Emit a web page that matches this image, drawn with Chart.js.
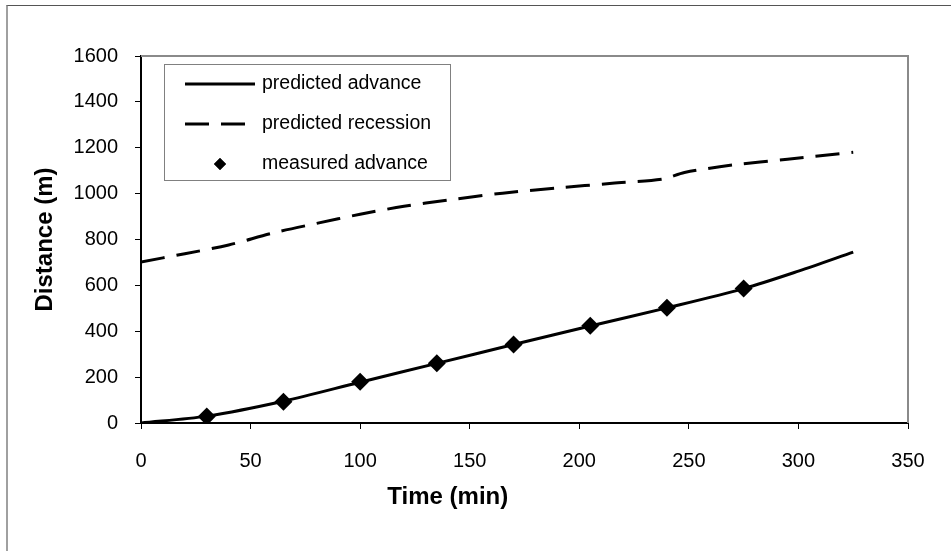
<!DOCTYPE html>
<html>
<head>
<meta charset="utf-8">
<script src="https://cdn.jsdelivr.net/npm/chart.js@4.4.1/dist/chart.umd.min.js"></script>
<style>
  body { margin: 0; background: #fff; }
  #wrap { position: relative; width: 951px; height: 551px; }
  #frame { position: absolute; left: 6px; top: 5px; width: 960px; height: 560px;
           border-top: 1px solid #555; border-left: 2px solid #a0a0a0; pointer-events: none; }
  canvas { position: absolute; left: 0; top: 0; }
</style>
</head>
<body>
<div id="wrap">
  <canvas id="c" width="951" height="551"></canvas>
  <div id="frame"></div>
</div>
<script>
// predicted advance (solid)
const advTime = [0, 30, 65, 100, 135, 170, 205, 240, 275, 300, 325];
const advDist = [0, 30, 95, 178, 260, 342, 423, 502, 586, 662, 745];

// predicted recession (dashed)
const recTime = [0, 20, 40, 60, 80, 100, 120, 140, 165, 190, 215, 238, 248, 270, 295, 325];
const recDist = [702, 738, 776, 828, 870, 910, 945, 972, 1002, 1025, 1045, 1063, 1092, 1125, 1150, 1180];

// measured advance (diamonds)
const measTime = [30, 65, 100, 135, 170, 205, 240, 275];
const measDist = [28, 93, 180, 260, 342, 424, 502, 586];

const seriesNames = ['predicted advance', 'predicted recession', 'measured advance'];
const xTitle = 'Time (min)';
const yTitle = 'Distance (m)';

const xTicks = { min: 0, max: 350, step: 50 };
const yTicks = { min: 0, max: 1600, step: 200 };

const toPts = (xs, ys) => xs.map((x, i) => ({ x: x, y: ys[i] }));

const FONT = "'Liberation Sans', Arial, sans-serif";

// legend box drawn inside the plot, top-left
const boxLegend = {
    id: 'boxLegend',
    afterDraw(chart) {
        const ctx = chart.ctx;
        ctx.save();
        ctx.strokeStyle = '#808080';
        ctx.lineWidth = 1;
        ctx.strokeRect(164.5, 64.5, 286, 116);
        chart.data.datasets.forEach((ds, i) => {
            const y = 84 + i * 40;
            if (ds.showLine !== false) {
                ctx.beginPath();
                ctx.setLineDash(ds.borderDash || []);
                ctx.lineWidth = ds.borderWidth;
                ctx.strokeStyle = ds.borderColor;
                ctx.moveTo(185, y);
                ctx.lineTo(255, y);
                ctx.stroke();
                ctx.setLineDash([]);
            } else {
                ctx.fillStyle = ds.pointBackgroundColor;
                Chart.helpers.drawPoint(ctx, { pointStyle: 'rectRot', radius: 6, borderWidth: 0 }, 220, y);
                ctx.fill();
            }
            ctx.fillStyle = '#000';
            ctx.font = '19.5px ' + FONT;
            ctx.textBaseline = 'middle';
            ctx.fillText(ds.label, 262, y);
        });
        // x axis title sits left of centre in the original
        ctx.font = 'bold 24px ' + FONT;
        ctx.textAlign = 'center';
        ctx.fillText(xTitle, chart.scales.x.getPixelForValue(140), 497);
        ctx.restore();
    }
};

// gray top + right edges of the plot area
const plotFrame = {
    id: 'plotFrame',
    beforeDatasetsDraw(chart) {
        const { ctx, chartArea: a } = chart;
        ctx.save();
        ctx.strokeStyle = '#8a8a8a';
        ctx.lineWidth = 2;
        ctx.beginPath();
        ctx.moveTo(a.left, a.top);
        ctx.lineTo(a.right, a.top);
        ctx.lineTo(a.right, a.bottom);
        ctx.stroke();
        ctx.restore();
    }
};

new Chart(document.getElementById('c').getContext('2d'), {
    type: 'scatter',
    data: {
        datasets: [{
            label: seriesNames[0],
            data: toPts(advTime, advDist),
            showLine: true,
            borderColor: '#000',
            borderWidth: 3,
            pointRadius: 0,
            tension: 0.3,
            order: 1
        }, {
            label: seriesNames[1],
            data: toPts(recTime, recDist),
            showLine: true,
            borderColor: '#000',
            borderWidth: 3,
            borderDash: [24, 12],
            pointRadius: 0,
            tension: 0.3,
            order: 1
        }, {
            label: seriesNames[2],
            data: toPts(measTime, measDist),
            showLine: false,
            pointStyle: 'rectRot',
            pointRadius: 9,
            pointBackgroundColor: '#000',
            pointBorderColor: '#000',
            pointBorderWidth: 0,
            order: 0
        }]
    },
    options: {
        responsive: false,
        animation: false,
        layout: { padding: { left: 0, top: 56, right: 43, bottom: 0 } },
        plugins: { legend: { display: false }, tooltip: { enabled: false } },
        scales: {
            x: {
                type: 'linear',
                min: xTicks.min, max: xTicks.max,
                afterFit: s => { s.height = 128; },
                ticks: { stepSize: xTicks.step, color: '#000', font: { size: 20, family: FONT }, padding: 20, maxRotation: 0,
                         callback: v => String(v) },
                grid: { drawOnChartArea: false, drawTicks: true, tickLength: 6, color: '#000', lineWidth: 1 },
                border: { display: true, color: '#000', width: 2 },
                title: { display: false }
            },
            y: {
                min: yTicks.min, max: yTicks.max,
                afterFit: s => { s.width = 141; },
                ticks: { stepSize: yTicks.step, color: '#000', font: { size: 20, family: FONT }, padding: 17,
                         callback: v => String(v) },
                grid: { drawOnChartArea: false, drawTicks: true, tickLength: 6, color: '#000', lineWidth: 1 },
                border: { display: true, color: '#000', width: 2 },
                title: { display: true, text: yTitle, color: '#000', font: { size: 24, weight: 'bold', family: FONT }, padding: { top: 31 } }
            }
        }
    },
    plugins: [plotFrame, boxLegend]
});
</script>
</body>
</html>
